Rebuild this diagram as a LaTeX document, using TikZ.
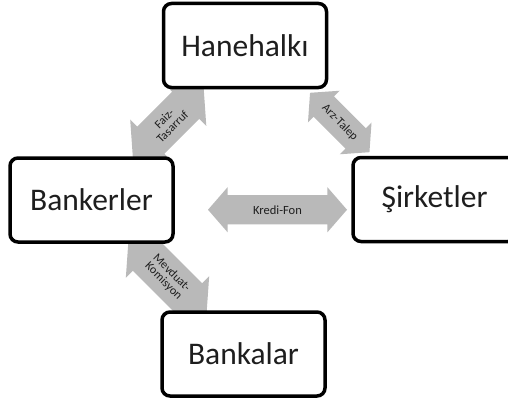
\documentclass[tikz,border=0pt]{standalone}
\usepackage{fontspec}
\setmainfont{Carlito}
\usetikzlibrary{positioning,calc,shapes.arrows,backgrounds}
\definecolor{flowgray}{RGB}{185,185,185}
\definecolor{inkgray}{RGB}{30,30,30}
\tikzset{box/.style={draw,line width=3.5pt,rounded corners=8pt,fill=white,minimum width=163pt,minimum height=84pt,text=inkgray,font=\fontsize{31.5}{36}\selectfont}}
\tikzset{flow/.style={double arrow,fill=flowgray,inner xsep=0pt,double arrow head extend=10pt,double arrow tip angle=98,align=center,text=inkgray,font=\fontsize{12}{11.5}\selectfont}}

\begin{document}
\begin{tikzpicture}[x=1pt,y=1pt]
\clip (0,0) rectangle (508,400);
\node[box] (hane) at (245,354.5) {Hanehalkı};
\node[box] (banker) at (91.5,200) {Bankerler};
\node[box] (sirket) at (434.5,200.5) {Şirketler};
\node[box] (banka) at (243.5,46) {Bankalar};

\begin{pgfonlayer}{background}
\node[flow,rotate=45,inner ysep=9pt,minimum height=100pt] (faiz) at ($(banker.north east)!0.5!(hane.south west)$) {Faiz-\\Tasarruf};
\node[flow,rotate=-45,inner ysep=9pt,double arrow head extend=8pt,minimum height=84pt] (arz) at ($(hane.south east)!0.5!(sirket.north west)$) {Arz-Talep};
\node[flow,rotate=-45,inner ysep=9pt,minimum height=110pt] (mevduat) at ($(banker.south east)!0.5!(banka.north west)$) {Mevduat-\\Komisyon};
\node[flow,inner ysep=10pt,double arrow head extend=8pt,minimum height=139pt,font=\fontsize{12.5}{12}\selectfont] (kredi) at ([xshift=14.5pt,yshift=-10pt]$(banker.east)!0.5!(sirket.west)$) {Kredi-Fon};
\end{pgfonlayer}
\end{tikzpicture}
\end{document}
